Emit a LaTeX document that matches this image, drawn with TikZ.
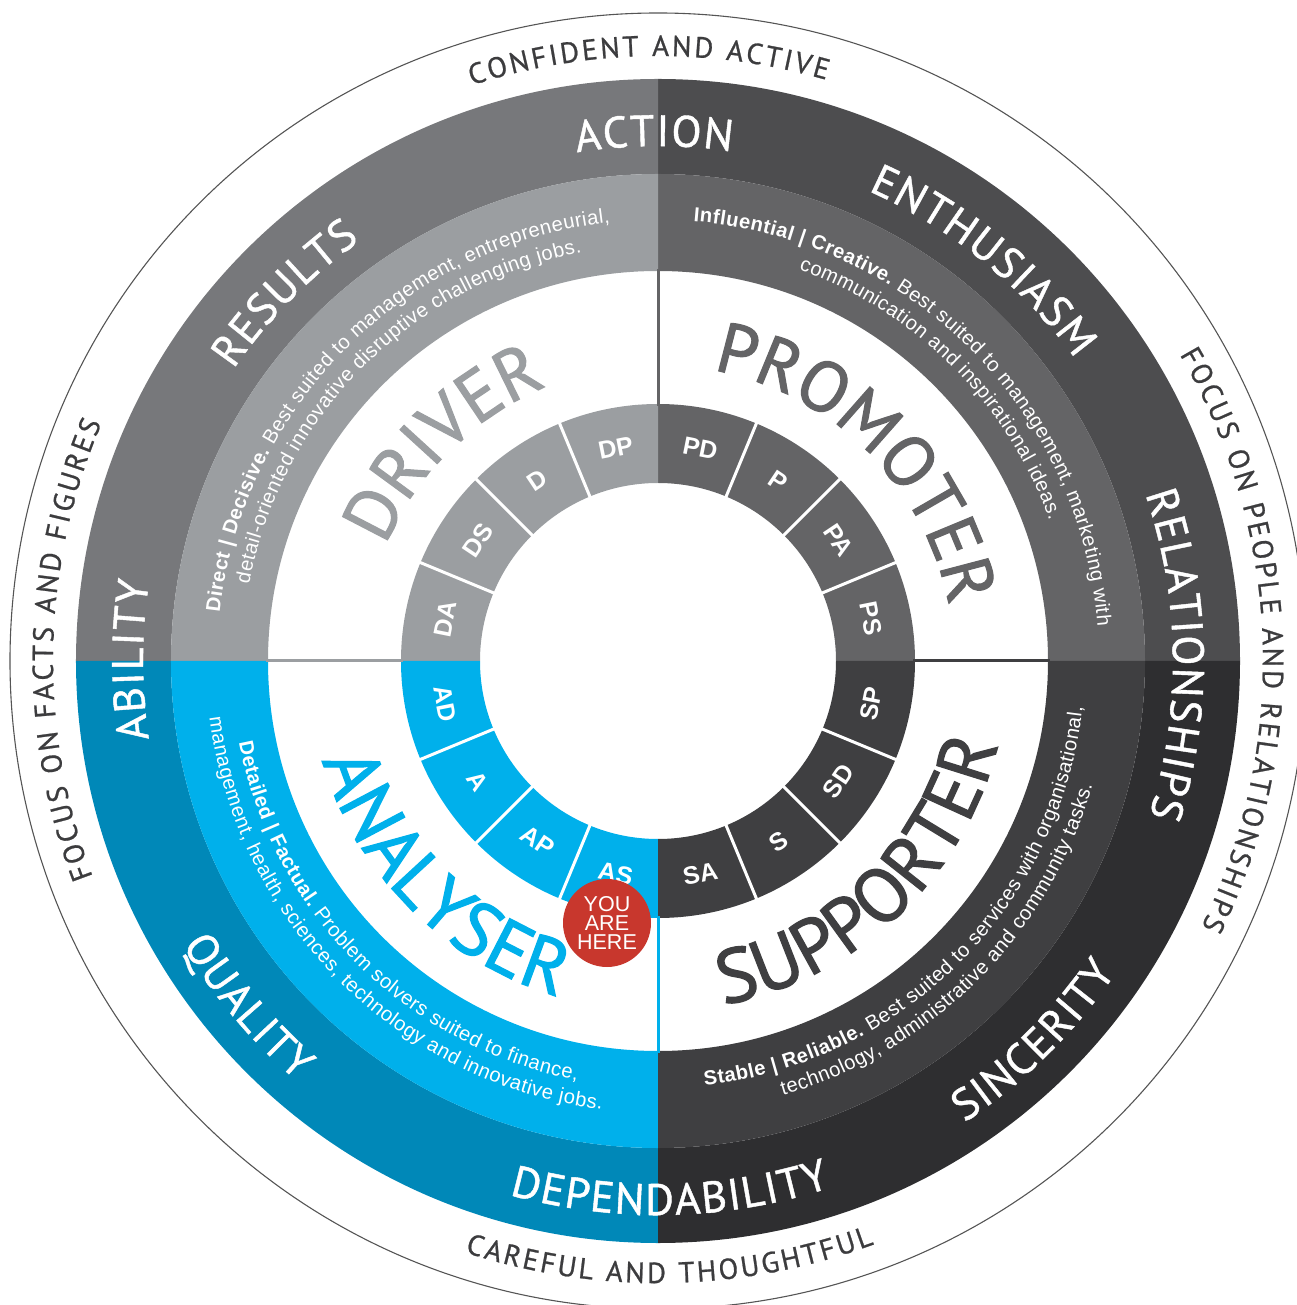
\documentclass[tikz,border=0pt]{standalone}
\usepackage{fontspec}
\setmainfont{Liberation Sans}
\newfontfamily\bigfont[FakeBold=1.5]{PT Sans}
\newfontfamily\ringfont[FakeBold=1]{PT Sans}
\newfontfamily\rimfont[FakeBold=0.8]{PT Sans}
\usetikzlibrary{decorations.text}

\definecolor{drvOut}{HTML}{77787B}
\definecolor{drvMid}{HTML}{9B9EA1}
\definecolor{proOut}{HTML}{4D4D4F}
\definecolor{proMid}{HTML}{646466}
\definecolor{supOut}{HTML}{2E2E30}
\definecolor{supMid}{HTML}{3F3F41}
\definecolor{anaOut}{HTML}{0088B8}
\definecolor{anaMid}{HTML}{00B0EB}
\definecolor{edgeText}{HTML}{3C3C3E}
\definecolor{edgeLine}{HTML}{555555}
\definecolor{hereRed}{HTML}{C8372D}

% annular sector: start angle, end angle, inner radius, outer radius, colour
\newcommand{\ringsector}[5]{%
  \fill[#5] (#1:#3) arc[start angle=#1,end angle=#2,radius=#3]
    -- (#2:#4) arc[start angle=#2,end angle=#1,radius=#4] -- cycle;}

% text on an arc, read clockwise (upper half): radius, centre angle, half span, format, text
\newcommand{\toparc}[5]{%
  \path[decorate,decoration={text along path,text format delimiters={[}{]},
      text align=center,text={[#4]#5}}]
    ({#2+#3}:#1) arc[start angle={#2+#3},end angle={#2-#3},radius=#1];}
% text on an arc, read anticlockwise (lower half)
\newcommand{\botarc}[5]{%
  \path[decorate,decoration={text along path,text format delimiters={[}{]},
      text align=center,text={[#4]#5}}]
    ({#2-#3}:#1) arc[start angle={#2-#3},end angle={#2+#3},radius=#1];}

% character formats (a leading kern gives the letter spacing)
\newcommand{\descr}{\fontsize{20.2}{22}\selectfont\mdseries\color{white}\kern0.5pt}
\newcommand{\descb}{\fontsize{20.2}{22}\selectfont\bfseries\color{white}\kern0.5pt}
\newcommand{\ringfmt}{\ringfont\fontsize{44}{44}\selectfont\color{white}\kern1.5pt}
\newcommand{\edgefmt}{\rimfont\fontsize{29}{29}\selectfont\color{edgeText}\kern2.6pt}
\newcommand{\bigfmt}[2]{\bigfont\fontsize{#2}{#2}\selectfont\color{#1}}

\tikzset{
  seglabel/.style={text=white,inner sep=0pt,font=\bfseries\fontsize{25}{25}\selectfont},
  gapline/.style={white,line width=3pt},
  divider/.style={line width=3pt},
}

\begin{document}
\begin{tikzpicture}[x=1pt,y=1pt]
\useasboundingbox (-658,-644) rectangle (638,661);

% thin outer circle
\draw[line width=1.1pt,edgeLine] (0,0) circle[radius=648];

% outer ring
\ringsector{0}{90}{487}{582}{proOut}
\ringsector{90}{180}{487}{582}{drvOut}
\ringsector{180}{270}{487}{582}{anaOut}
\ringsector{270}{360}{487}{582}{supOut}
% middle ring
\ringsector{0}{90}{390}{487}{proMid}
\ringsector{90}{180}{390}{487}{drvMid}
\ringsector{180}{270}{390}{487}{anaMid}
\ringsector{270}{360}{390}{487}{supMid}
% inner segment ring
\ringsector{0}{90}{178}{257}{proMid}
\ringsector{90}{180}{178}{257}{drvMid}
\ringsector{180}{270}{178}{257}{anaMid}
\ringsector{270}{360}{178}{257}{supMid}
\foreach \ang in {22.5,45,67.5,112.5,135,157.5,202.5,225,247.5,292.5,315,337.5}
  \draw[gapline] (\ang:174) -- (\ang:261);

% quadrant dividers across the white ring
\draw[divider,proMid] (90:255) -- (90:392);
\draw[divider,drvMid] (180:255) -- (180:392);
\draw[divider,anaMid] (270:255) -- (270:392);
\draw[divider,supMid] (0:255) -- (0:392);

% segment labels
\foreach \ang/\txt in {101.25/DP,123.75/D,146.25/DS,168.75/DA,78.75/PD,56.25/P,33.75/PA,11.25/PS}
  \node[seglabel,rotate=\ang-90] (seg\txt) at (\ang:217) {\txt};
\foreach \ang/\txt in {348.75/SP,326.25/SD,303.75/S,281.25/SA,258.75/AS,236.25/AP,213.75/A,191.25/AD}
  \node[seglabel,rotate=\ang+90] (seg\txt) at (\ang:217) {\txt};

% quadrant names
\toparc{296}{134.5}{80}{\bigfmt{drvMid}{72}}{DRIVER}
\toparc{296}{45}{80}{\bigfmt{proMid}{71}}{PROMOTER}
\botarc{350}{-46.5}{80}{\bigfmt{supMid}{76}}{SUPPORTER}
\botarc{350}{225}{80}{\bigfmt{anaMid}{76}}{ANALYSER}

% descriptions
\toparc{441}{135}{70}{\descb}{Direct | Decisive.[\descr] Best suited to management, entrepreneurial,}
\toparc{416}{135}{70}{\descr}{detail-oriented innovative disruptive challenging jobs.}
\toparc{441}{45}{70}{\descb}{Influential | Creative.[\descr] Best suited to management, marketing with}
\toparc{416}{45}{70}{\descr}{communication and inspirational ideas.}
\botarc{427}{-45}{70}{\descb}{Stable | Reliable.[\descr] Best suited to services with organisational,}
\botarc{452}{-45}{70}{\descr}{technology, administrative and community tasks.}
\botarc{427}{225}{70}{\descb}{Detailed | Factual.[\descr] Problem solvers suited to finance,}
\botarc{452}{225}{70}{\descr}{management, health, sciences, technology and innovative jobs.}

% outer ring words
\toparc{515}{90.5}{40}{\ringfmt}{ACTION}
\toparc{515}{51}{40}{\ringfmt}{ENTHUSIASM}
\toparc{515}{135.5}{40}{\ringfmt}{RESULTS}
\toparc{515}{180}{40}{\ringfmt}{ABILITY}
\toparc{515}{0.8}{40}{\ringfmt}{RELATIONSHIPS}
\botarc{554}{-45.4}{40}{\ringfmt}{SINCERITY}
\botarc{554}{271.2}{40}{\ringfmt}{DEPENDABILITY}
\botarc{554}{220}{40}{\ringfmt}{QUALITY}

% words around the rim
\toparc{605}{91}{50}{\edgefmt}{CONFIDENT AND ACTIVE}
\toparc{605}{2.3}{50}{\edgefmt}{FOCUS ON PEOPLE AND RELATIONSHIPS}
\toparc{605}{179}{50}{\edgefmt}{FOCUS ON FACTS AND FIGURES}
\botarc{622}{271}{50}{\edgefmt}{CAREFUL AND THOUGHTFUL}

% marker
\node[circle,fill=hereRed,minimum size=88pt,inner sep=0pt,text=white,align=center,
      font=\fontsize{21.5}{19}\selectfont] (here) at (-51,-262) {YOU\\ARE\\HERE};
\end{tikzpicture}
\end{document}
